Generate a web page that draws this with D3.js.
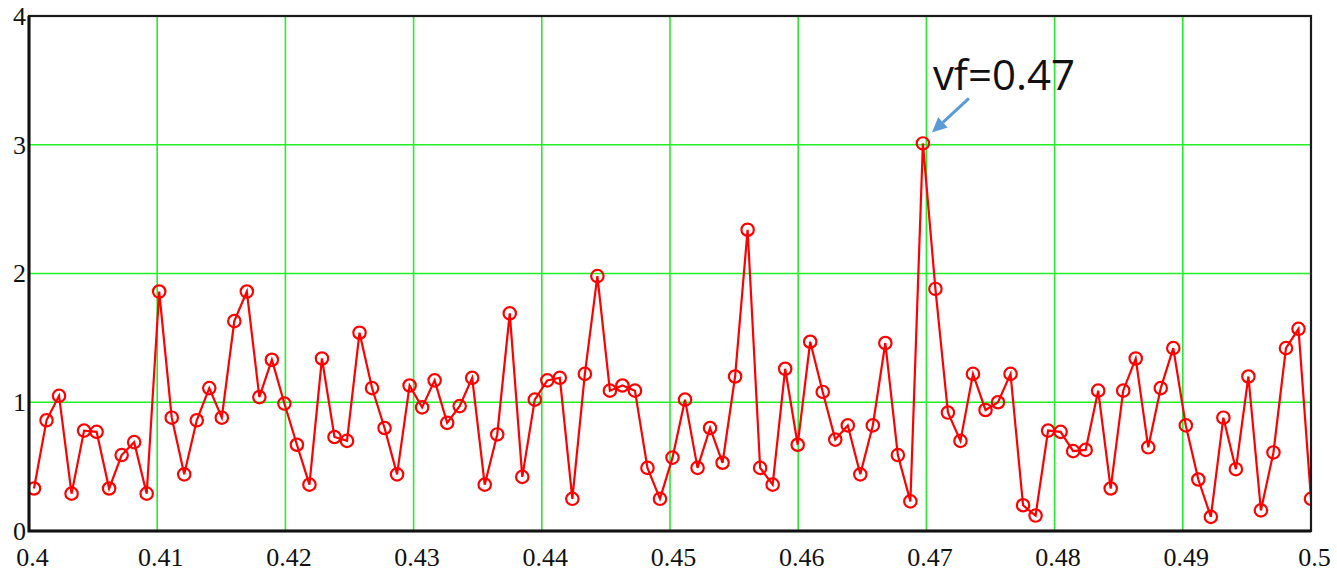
<!DOCTYPE html>
<html>
<head>
    <meta charset="utf-8">
    <script src="https://d3js.org/d3.v7.min.js"></script>
    <style>
        body { margin : 0; background : white; }
        .tick text {
            font-family : "Liberation Serif", "Times New Roman", serif;
            font-size : 26px;
            fill : #111;
        }
        .grid line { stroke : #22f022; stroke-width : 1.6; }
        .trace { fill : none; stroke : red; stroke-width : 2.2; }
        .dot { fill : none; stroke : red; stroke-width : 2.2; }
        .note {
            font-family : "Open Sans", "Noto Sans", sans-serif;
            font-size : 42px;
            fill : #111;
        }
    </style>
</head>
<body>
<script type="text/javascript">

    // spectrum bins 410 .. 512 of a 1024 point transform
    var firstBin = 410, fftSize = 1024;

    var amplitude = [
        0.33, 0.86, 1.05, 0.29, 0.78, 0.77, 0.33, 0.59, 0.69, 0.29,
        1.86, 0.88, 0.44, 0.86, 1.11, 0.88, 1.63, 1.86, 1.04, 1.33,
        0.99, 0.67, 0.36, 1.34, 0.73, 0.70, 1.54, 1.11, 0.80, 0.44,
        1.13, 0.96, 1.17, 0.84, 0.97, 1.19, 0.36, 0.75, 1.69, 0.42,
        1.02, 1.17, 1.19, 0.25, 1.22, 1.98, 1.09, 1.13, 1.09, 0.49,
        0.25, 0.57, 1.02, 0.49, 0.80, 0.53, 1.20, 2.34, 0.49, 0.36,
        1.26, 0.67, 1.47, 1.08, 0.71, 0.82, 0.44, 0.82, 1.46, 0.59,
        0.23, 3.01, 1.88, 0.92, 0.70, 1.22, 0.94, 1.00, 1.22, 0.20,
        0.12, 0.78, 0.77, 0.62, 0.63, 1.09, 0.33, 1.09, 1.34, 0.65,
        1.11, 1.42, 0.82, 0.40, 0.11, 0.88, 0.48, 1.20, 0.16, 0.61,
        1.42, 1.57, 0.25
    ];

    var xTicks = [0.4, 0.41, 0.42, 0.43, 0.44, 0.45, 0.46, 0.47, 0.48, 0.49, 0.5];
    var xTickLabels = ["0.4", "0.41", "0.42", "0.43", "0.44", "0.45", "0.46", "0.47", "0.48", "0.49", "0.5"];
    var yTicks = [0, 1, 2, 3, 4];
    var yTickLabels = ["0", "1", "2", "3", "4"];
    var noteText = "vf=0.47";

    function draw() {

        var data = amplitude.map(function(d, i) {
            return { f : (firstBin + i) / fftSize, a : d };
        });

        var width = 1337, height = 573;
        var box = { left: 29, right: 1311, top: 16, bottom: 531 };

        var svg = d3.select("body").append("svg")
                    .attr("width", width)
                    .attr("height", height);

        var x = d3.scaleLinear().domain([0.4, 0.5]).range([box.left, box.right]);
        var y = d3.scaleLinear().domain([0, 4]).range([box.bottom, box.top]);

        // grid
        var grid = svg.append("g").attr("class", "grid");
        grid.selectAll(".gx")
            .data(xTicks.slice(1, -1))
            .enter().append("line")
            .attr("x1", function(d) { return x(d); })
            .attr("x2", function(d) { return x(d); })
            .attr("y1", box.top)
            .attr("y2", box.bottom);
        grid.selectAll(".gy")
            .data(yTicks.slice(1, -1))
            .enter().append("line")
            .attr("y1", function(d) { return y(d); })
            .attr("y2", function(d) { return y(d); })
            .attr("x1", box.left)
            .attr("x2", box.right);

        // clip to the plot box
        svg.append("clipPath").attr("id", "box")
           .append("rect")
           .attr("x", box.left).attr("y", box.top)
           .attr("width", box.right - box.left).attr("height", box.bottom - box.top);

        var plot = svg.append("g").attr("clip-path", "url(#box)");

        var line = d3.line()
                     .x(function(d) { return x(d.f); })
                     .y(function(d) { return y(d.a); });

        plot.append("path")
            .datum(data)
            .attr("class", "trace")
            .attr("d", line);

        plot.selectAll(".dot")
            .data(data)
            .enter().append("circle")
            .attr("class", "dot")
            .attr("cx", function(d) { return x(d.f); })
            .attr("cy", function(d) { return y(d.a); })
            .attr("r", 6.2);

        // frame
        svg.append("rect")
           .attr("x", box.left).attr("y", box.top)
           .attr("width", box.right - box.left).attr("height", box.bottom - box.top)
           .attr("fill", "none")
           .attr("stroke", "#1a1a1a")
           .attr("stroke-width", 2.2);
        svg.append("path")
           .attr("d", "M" + box.left + "," + box.top + "V" + box.bottom + "H" + box.right)
           .attr("fill", "none")
           .attr("stroke", "#111")
           .attr("stroke-width", 3);

        // axes (labels only)
        var xAxis = svg.append("g")
           .attr("transform", "translate(0," + box.bottom + ")")
           .call(d3.axisBottom(x).tickValues(xTicks)
                   .tickFormat(function(d, i) { return xTickLabels[i]; })
                   .tickSize(0).tickPadding(17));
        xAxis.select(".domain").remove();
        xAxis.selectAll("text").attr("dx", 3);

        var yAxis = svg.append("g")
           .attr("transform", "translate(" + (box.left - 3) + ",0)")
           .call(d3.axisLeft(y).tickValues(yTicks)
                   .tickFormat(function(d, i) { return yTickLabels[i]; })
                   .tickSize(0).tickPadding(0));
        yAxis.select(".domain").remove();
        yAxis.selectAll("text").attr("dy", "0.32em");

        // peak annotation
        var peak = data[d3.maxIndex(data, function(d) { return d.a; })];
        var px = x(peak.f), py = y(peak.a);

        svg.append("text")
           .attr("class", "note")
           .attr("x", px + 10)
           .attr("y", py - 53)
           .text(noteText);

        var tail = [px + 46, py - 45], tip = [px + 9, py - 11];
        var ang = Math.atan2(tip[1] - tail[1], tip[0] - tail[0]);
        var headLen = 15, headW = 7;
        var base = [tip[0] - headLen * Math.cos(ang), tip[1] - headLen * Math.sin(ang)];

        svg.append("line")
           .attr("x1", tail[0]).attr("y1", tail[1])
           .attr("x2", base[0]).attr("y2", base[1])
           .attr("stroke", "#5b9bd5")
           .attr("stroke-width", 3);
        svg.append("polygon")
           .attr("points", [
                tip,
                [base[0] + headW * Math.sin(ang), base[1] - headW * Math.cos(ang)],
                [base[0] - headW * Math.sin(ang), base[1] + headW * Math.cos(ang)]
            ].map(function(p) { return p.join(","); }).join(" "))
           .attr("fill", "#5b9bd5");
    }

    draw();

</script>
</body>
</html>
